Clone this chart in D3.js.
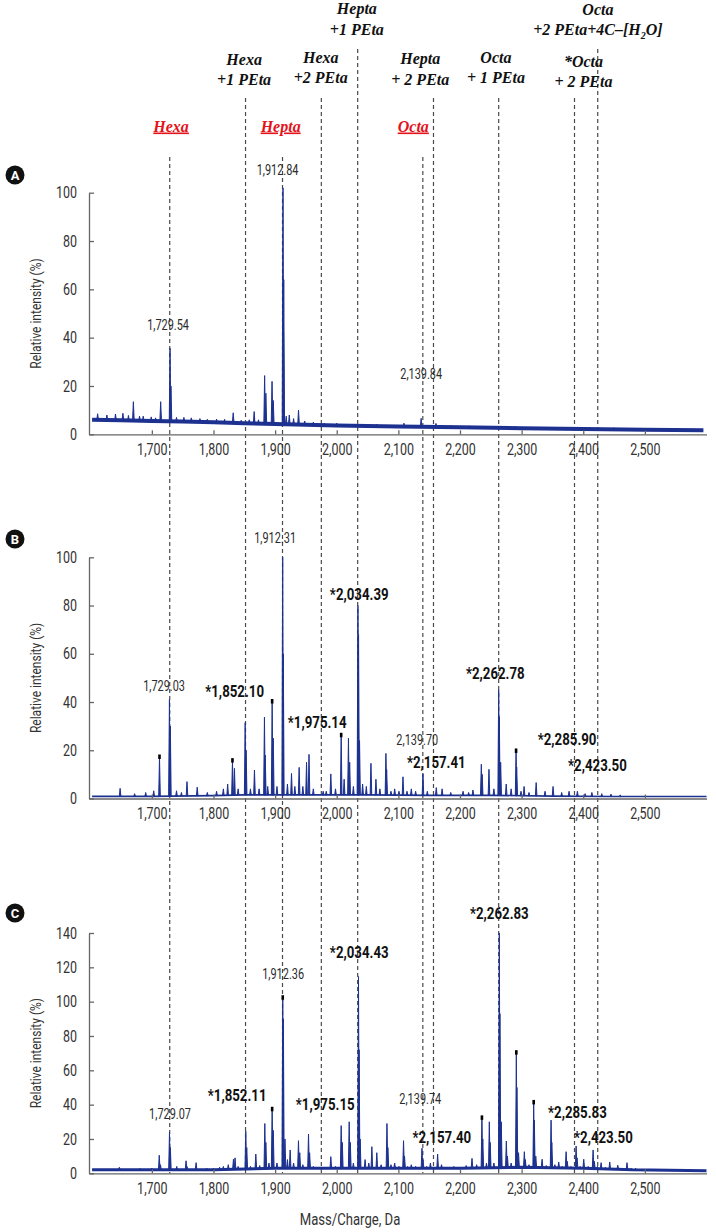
<!DOCTYPE html>
<html><head><meta charset="utf-8">
<script src="https://cdn.jsdelivr.net/npm/d3@7"></script>
<style>
body{margin:0;background:#fff;}
svg text{font-family:Roboto,"Noto Sans",sans-serif;}
.serif{font-family:"Liberation Serif","DejaVu Serif",serif !important;font-weight:bold;font-style:italic;}
</style></head><body>
<svg id="chart" width="716" height="1232"></svg>
<script>
// ================= DATA =================
const massDomain = [1598, 2600];
const xTicks = [1700, 1800, 1900, 2000, 2100, 2200, 2300, 2400, 2500];
const yTicksAB = [0, 20, 40, 60, 80, 100];
const yTicksC = [0, 20, 40, 60, 80, 100, 120, 140];

// assignment marker lines (m/z)
const markerMasses = [1729.0, 1852.0, 1912.0, 1975.0, 2034.0, 2139.7, 2157.0, 2262.8, 2385.8, 2423.5];
const markerTier   = [3, 2, 3, 2, 1, 3, 2, 2, 2, 1];

// black assignment labels (two lines each) with anchor m/z
const topLabelLine1 = ["Hexa", "Hexa", "Hepta", "Hepta", "Octa", "*Octa", "Octa"];
const topLabelLine2 = ["+1 PEta", "+2 PEta", "+1 PEta", "+ 2 PEta", "+ 1 PEta", "+ 2 PEta", "+2 PEta+4C\u2013[H|2|O]"];
const topLabelMass  = [1849.7, 1974.0, 2032.6, 2135.5, 2258.3, 2400.3, 2423.8];

// red (underlined) labels
const redLabels    = ["Hexa", "Hepta", "Octa"];
const redLabelMass = [1731.2, 1909.0, 2124.2];

// ---- Panel A ----
const aBaseM = [1603, 1650, 1700, 1750, 1800, 1850, 1900, 1950, 2000, 2050, 2100, 2200, 2300, 2400, 2500, 2595];
const aBaseV = [6.0, 5.8, 5.5, 5.3, 5.0, 4.6, 4.3, 4.0, 3.6, 3.4, 3.2, 2.9, 2.5, 2.2, 1.9, 1.7];
const aPeakM = [1612, 1627, 1641, 1653, 1662, 1670, 1680, 1686, 1699, 1706, 1714.3, 1729.5, 1731, 1740, 1752, 1764, 1778, 1790, 1805, 1818, 1832, 1845, 1858, 1866, 1873, 1883, 1885, 1895, 1897, 1912.8, 1914, 1918, 1923, 1930, 1938, 1948, 1962, 1980, 2000, 2015, 2040, 2065, 2085, 2109, 2137, 2161, 2185, 2215, 2250, 2290, 2330, 2370, 2410, 2450, 2500, 2540, 2575];
const aPeakV = [8.5, 8.0, 8.4, 8.7, 7.8, 13.5, 7.5, 7.5, 7.2, 6.8, 13.5, 35.6, 20, 7.0, 7.0, 6.8, 6.5, 6.2, 6.3, 6.2, 8.9, 5.8, 6.0, 9.4, 6.0, 24.3, 17, 21.9, 14, 102, 64, 7.5, 8.0, 6.5, 10, 5.5, 5.0, 4.6, 4.6, 4.2, 4.2, 4.1, 3.8, 4.6, 6.6, 4.5, 3.6, 3.5, 3.3, 3.2, 3.0, 2.8, 2.8, 2.7, 2.4, 2.5, 2.2];
const aMarks = [];
const aLabelText = ["1,729.54", "1,912.84", "2,139.84"];
const aLabelM = [1726.3, 1904.0, 2137.0];
const aLabelV = [43.2, 107.3, 22.9];
const aLabelBold = [0, 0, 0];

// ---- Panel B ----
const bBaseM = [1603, 1700, 1800, 1850, 1950, 2050, 2150, 2250, 2350, 2450, 2600];
const bBaseV = [0.9, 0.9, 1.2, 1.5, 1.5, 1.5, 1.3, 1.3, 1.0, 0.8, 0.8];
const bPeakM = [1648.5, 1672, 1690, 1703, 1712.4, 1728.5, 1730, 1740, 1748, 1757, 1773.6, 1790, 1805, 1816, 1823, 1830.8, 1834, 1840, 1851.4, 1853, 1860, 1866.5, 1874, 1882.7, 1884, 1888, 1895.2, 1897, 1903, 1912.3, 1913.3, 1920, 1926.6, 1932, 1939, 1945, 1951, 1955, 1962, 1978, 1983, 1990.4, 1998, 2007.2, 2012, 2019, 2021, 2027, 2034.4, 2035.4, 2037, 2042, 2048, 2055.5, 2063.6, 2070, 2079.8, 2081, 2088, 2094, 2101, 2107.5, 2114, 2121, 2128, 2139.9, 2147, 2161.5, 2171, 2185, 2205, 2214, 2221, 2234.6, 2236, 2247, 2255, 2262.8, 2263.8, 2266, 2275, 2283, 2291, 2292, 2299, 2304, 2312, 2323.6, 2338, 2351, 2365, 2377, 2390.5, 2403, 2414, 2430, 2445, 2460];
const bPeakV = [4.2, 2.0, 2.5, 3.2, 17, 41, 30, 3.2, 2.5, 7.0, 4.7, 2.5, 3.0, 4.0, 6.0, 15.5, 12.5, 4.0, 31.4, 20, 4.0, 11.8, 4.0, 33.7, 18, 5.0, 40, 25, 5.0, 100, 60, 6.0, 10.4, 5.0, 12.9, 5.0, 15, 18.3, 4.0, 3.0, 3.0, 10.2, 4.0, 26, 8.0, 25, 15, 5.0, 80, 68, 24, 6.0, 5.0, 14.6, 8.0, 4.0, 18.7, 12, 3.0, 4.0, 3.0, 9.0, 3.0, 4.0, 3.0, 10.2, 3.0, 4.5, 4.0, 2.5, 3.0, 2.5, 3.5, 14.2, 10, 12.1, 4.0, 45, 34, 15, 6.0, 4.0, 19.5, 13, 3.0, 5.0, 2.5, 6.6, 3.0, 5.0, 2.5, 3.0, 3.0, 2.0, 2.5, 2.0, 1.8, 1.5];
const bMarks = [1712.4, 1830.8, 1895.2, 2007.2, 2291];
const bLabelText = ["1,729.03", "*1,852.10", "1,912.31", "*1,975.14", "*2,034.39", "2,139.70", "*2,157.41", "*2,262.78", "*2,285.90", "*2,423.50"];
const bLabelM = [1719.8, 1834.3, 1900.0, 1968.3, 2036.5, 2130.7, 2161.5, 2257.3, 2373.8, 2423.0];
const bLabelV = [44.6, 42.1, 105.9, 29.2, 82.3, 22.2, 12.6, 49.5, 22.2, 11.4];
const bLabelBold = [0, 1, 0, 1, 1, 0, 1, 1, 1, 1];

// ---- Panel C ----
const cBaseM = [1603, 1800, 1900, 2000, 2100, 2200, 2300, 2400, 2480, 2600];
const cBaseV = [2.0, 2.0, 3.0, 3.0, 3.0, 3.0, 3.5, 3.0, 2.0, 1.5];
const cPeakM = [1612, 1647.3, 1665, 1680.8, 1700, 1712, 1714, 1728.6, 1730, 1740.4, 1755.5, 1757, 1771.8, 1789, 1800, 1810, 1816, 1824, 1832.4, 1835, 1840, 1852.4, 1854, 1860, 1868.7, 1875, 1883.3, 1885, 1890, 1895.2, 1897, 1903, 1912.4, 1913.4, 1916, 1920, 1924.4, 1930, 1937.9, 1940, 1945, 1954.2, 1956, 1962, 1978.5, 1990.4, 1998, 2007.2, 2009, 2020.2, 2022, 2027, 2035.3, 2036.3, 2038, 2046, 2052, 2057, 2065, 2072, 2081.5, 2083, 2088, 2094, 2101, 2108.4, 2110, 2115, 2121, 2128, 2138.3, 2140, 2146, 2152, 2163.7, 2170, 2180, 2190, 2200, 2210, 2219.5, 2227, 2235.6, 2237, 2243, 2247.6, 2249, 2255, 2263.8, 2264.8, 2267, 2275.2, 2277, 2283, 2291.4, 2292.4, 2295, 2304.4, 2306, 2312, 2319.6, 2320.6, 2323, 2333.2, 2340, 2347.8, 2349, 2354, 2360.2, 2366, 2372.2, 2374, 2380, 2388.4, 2390, 2395, 2400.8, 2408, 2416, 2418, 2423, 2429, 2436, 2443, 2450, 2456, 2463, 2471, 2478, 2485, 2500, 2520, 2545, 2570];
const cPeakV = [2.5, 3.5, 2.5, 2.8, 3.0, 10.5, 5.0, 23.9, 15, 4.0, 7.3, 4.0, 6.2, 3.0, 3.0, 3.5, 4.0, 5.0, 8.2, 9.0, 4.0, 24.6, 15, 4.0, 11.2, 4.5, 29, 18, 6.0, 37, 25, 6.0, 102, 90, 20, 8.0, 13.6, 6.0, 19, 12, 5.0, 22.9, 12, 4.0, 3.0, 9.7, 4.0, 27.8, 18, 30, 18, 6.0, 114.6, 72, 20, 8.0, 6.0, 15.5, 12, 5.0, 29, 15, 5.0, 6.0, 4.0, 19, 10, 4.0, 5.0, 4.0, 14.6, 8.0, 4.0, 6.0, 11.2, 5.0, 3.5, 4.0, 3.5, 4.5, 8.7, 5.0, 32, 20, 6.0, 30, 18, 6.0, 140, 93, 30, 18.8, 10, 6.0, 70, 50, 12, 12.6, 8.0, 5.0, 41, 31, 10, 8.2, 4.5, 31, 18, 5.0, 6.6, 4.0, 12.6, 7.0, 4.0, 15.9, 9.0, 4.0, 8.2, 4.0, 13.6, 7.0, 4.0, 6.2, 3.5, 6.6, 3.0, 4.7, 3.0, 6.2, 2.8, 3.0, 2.5, 2.3, 2.3, 2.2];
const cMarks = [1895.2, 1912.4, 2235.6, 2291.4, 2319.6];
const cLabelText = ["1,729.07", "*1,852.11", "1,912.36", "*1,975.15", "*2,034.43", "2,139.74", "*2,157.40", "*2,262.83", "*2,285.83", "*2,423.50"];
const cLabelM = [1729.5, 1838.4, 1913.0, 1981.3, 2036.5, 2135.5, 2170.5, 2263.8, 2390.5, 2432.7];
const cLabelV = [31.6, 42.1, 113.2, 36.9, 125.5, 40.4, 17.7, 148.2, 32.2, 17.7];
const cLabelBold = [0, 1, 0, 1, 1, 0, 1, 1, 1, 1];

// ================= LAYOUT / STYLE =================
const BLUE = "#1d3190";
const plotLeft = 89, plotRight = 706.5;
const panels = [
  {letter: "A", top: 192.7, bottom: 434.3, max: 100, yTicks: yTicksAB, baseM: aBaseM, baseV: aBaseV, peakM: aPeakM, peakV: aPeakV, marks: aMarks,
   lt: aLabelText, lm: aLabelM, lv: aLabelV, lb: aLabelBold, band: 4, letterY: 175},
  {letter: "B", top: 557.3, bottom: 798.5, max: 100, yTicks: yTicksAB, baseM: bBaseM, baseV: bBaseV, peakM: bPeakM, peakV: bPeakV, marks: bMarks,
   lt: bLabelText, lm: bLabelM, lv: bLabelV, lb: bLabelBold, band: 1.6, letterY: 539},
  {letter: "C", top: 933, bottom: 1173.3, max: 140, yTicks: yTicksC, baseM: cBaseM, baseV: cBaseV, peakM: cPeakM, peakV: cPeakV, marks: cMarks,
   lt: cLabelText, lm: cLabelM, lv: cLabelV, lb: cLabelBold, band: 3, letterY: 913}
];
const tierTop = {1: 49, 2: 98, 3: 157};
const markerBottom = 1173.3;
const topLabelY = [[65, 85], [62.7, 82.7], [13.5, 34.5], [63.5, 85], [62.7, 82.7], [67, 87], [15, 35]];
const redLabelY = 131.5;
const SQ = 0.78;   // horizontal condensing for the narrow sans labels

// condense a text element horizontally around its anchor
function squeeze(sel, s) {
  sel.each(function () {
    const t = d3.select(this);
    const tx = +t.attr("x") || 0, ty = +t.attr("y") || 0;
    t.attr("x", 0).attr("y", 0).attr("transform", `translate(${tx},${ty}) scale(${s},1)`);
  });
}

const svg = d3.select("#chart");
const x = d3.scaleLinear().domain(massDomain).range([plotLeft, plotRight]);

// dashed marker lines
svg.append("g").selectAll("line").data(markerMasses).join("line")
  .attr("x1", d => x(d)).attr("x2", d => x(d))
  .attr("y1", (d, i) => tierTop[markerTier[i]]).attr("y2", markerBottom)
  .attr("stroke", "#4a4a4a").attr("stroke-width", 1.2).attr("stroke-dasharray", "4,3");

// top labels
const tl = svg.append("g");
topLabelMass.forEach((m, i) => {
  const cx = x(m);
  tl.append("text").attr("class", "serif").attr("x", cx).attr("y", topLabelY[i][0])
    .attr("text-anchor", "middle").attr("font-size", 16).attr("fill", "#111").text(topLabelLine1[i]);
  const t = tl.append("text").attr("class", "serif").attr("x", cx).attr("y", topLabelY[i][1])
    .attr("text-anchor", "middle").attr("font-size", 16).attr("fill", "#111");
  const parts = topLabelLine2[i].split("|");
  parts.forEach((p, k) => {
    const ts = t.append("tspan").text(p);
    if (k === 1) ts.attr("font-size", 10).attr("dy", 4);
    if (k === 2) ts.attr("dy", -4);
  });
});
redLabelMass.forEach((m, i) => {
  svg.append("text").attr("class", "serif").attr("x", x(m)).attr("y", redLabelY)
    .attr("text-anchor", "middle").attr("font-size", 16).attr("fill", "#e3121b")
    .attr("text-decoration", "underline").text(redLabels[i]);
});

panels.forEach(p => {
  const g = svg.append("g");
  const y = d3.scaleLinear().domain([0, p.max]).range([p.bottom, p.top]);
  const base = d3.scaleLinear().domain(p.baseM).range(p.baseV).clamp(true);

  // baseline band
  g.append("path").datum(p.baseM.map((m, i) => [m, p.baseV[i]]))
    .attr("d", d3.line().x(d => x(d[0])).y(d => y(d[1])))
    .attr("fill", "none").attr("stroke", BLUE).attr("stroke-width", p.band).attr("stroke-linejoin", "round");

  // peaks
  const hw = 1.3;
  g.append("g").selectAll("path").data(p.peakM).join("path")
    .attr("d", (m, i) => {
      const b = y(base(m));
      return `M${x(m - hw)},${b}L${x(m)},${y(p.peakV[i])}L${x(m + hw)},${b}Z`;
    })
    .attr("fill", BLUE).attr("stroke", BLUE).attr("stroke-width", 1).attr("stroke-linejoin", "miter");

  // black tips
  g.append("g").selectAll("line").data(p.marks).join("line")
    .attr("x1", m => x(m)).attr("x2", m => x(m))
    .attr("y1", m => y(p.peakV[p.peakM.indexOf(m)]) - 3)
    .attr("y2", m => y(p.peakV[p.peakM.indexOf(m)]) + 1.5)
    .attr("stroke", "#000").attr("stroke-width", 2.6);

  // axes
  const xa = g.append("g").attr("transform", `translate(0,${p.bottom})`)
    .call(d3.axisBottom(x).tickValues(xTicks).tickFormat(d3.format(",")).tickSizeInner(-4).tickSizeOuter(0).tickPadding(9));
  const ya = g.append("g").attr("transform", `translate(${plotLeft},0)`)
    .call(d3.axisLeft(y).tickValues(p.yTicks).tickSizeInner(-5).tickSizeOuter(0).tickPadding(12));
  [xa, ya].forEach(a => {
    a.selectAll("path, line").attr("stroke", "#666").attr("stroke-width", 1.3);
    a.selectAll("text").attr("font-size", 16).attr("fill", "#333").style("font-family", "Roboto, sans-serif");
    squeeze(a.selectAll("text"), SQ);
  });

  // y title
  g.append("text").attr("transform", `translate(36,${(p.top + p.bottom) / 2}) rotate(-90) scale(0.8,1)`)
    .attr("text-anchor", "middle").attr("dy", "0.35em").attr("font-size", 15).attr("fill", "#333")
    .text("Relative intensity (%)");

  // peak labels
  const lab = g.append("g").selectAll("text").data(p.lt).join("text")
    .attr("x", (d, i) => x(p.lm[i])).attr("y", (d, i) => y(p.lv[i]))
    .attr("text-anchor", "middle")
    .attr("font-size", (d, i) => p.lb[i] ? 17 : 14)
    .attr("font-weight", (d, i) => p.lb[i] ? "bold" : "normal")
    .attr("fill", (d, i) => p.lb[i] ? "#111" : "#2b2b2b")
    .text(d => d);
  squeeze(lab, SQ);

  // panel letter
  g.append("circle").attr("cx", 15).attr("cy", p.letterY).attr("r", 9.5).attr("fill", "#111");
  g.append("text").attr("x", 15).attr("y", p.letterY).attr("dy", "0.36em").attr("text-anchor", "middle")
    .attr("font-size", 13).attr("font-weight", "bold").attr("fill", "#fff").text(p.letter);
});

const xt = svg.append("text").attr("x", 350).attr("y", 1225).attr("text-anchor", "middle")
  .attr("font-size", 16).attr("fill", "#333").text("Mass/Charge, Da");
squeeze(xt, 0.82);
</script>
</body></html>
